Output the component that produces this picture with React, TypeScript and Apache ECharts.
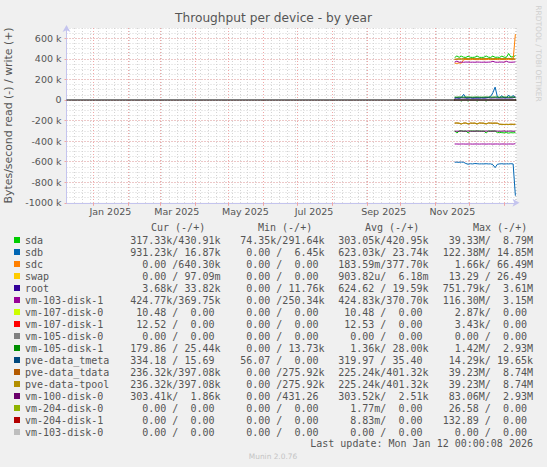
import { useEffect, useRef } from 'react';
import * as echarts from 'echarts';

// axis range and ticks
const axisRange = ['2024-12-08', '2026-01-12'];
const monthStarts = [
  '2025-01-01', '2025-02-01', '2025-03-01', '2025-04-01', '2025-05-01', '2025-06-01', '2025-07-01',
  '2025-08-01', '2025-09-01', '2025-10-01', '2025-11-01', '2025-12-01', '2026-01-01',
];
const labelDates = ['2025-01-16', '2025-03-16', '2025-05-16', '2025-07-16', '2025-09-16', '2025-11-16'];
const xLabels = ['Jan 2025', 'Mar 2025', 'May 2025', 'Jul 2025', 'Sep 2025', 'Nov 2025'];
const yTicksK = [-1000, -800, -600, -400, -200, 0, 200, 400, 600];

// sampled days (every 2 days) where data exists
const days = [
  '2025-11-18', '2025-11-20', '2025-11-22', '2025-11-24', '2025-11-26', '2025-11-28', '2025-11-30',
  '2025-12-02', '2025-12-04', '2025-12-06', '2025-12-08', '2025-12-10', '2025-12-12', '2025-12-14',
  '2025-12-16', '2025-12-18', '2025-12-20', '2025-12-22', '2025-12-24', '2025-12-26', '2025-12-28',
  '2025-12-30', '2026-01-01', '2026-01-03', '2026-01-05', '2026-01-07', '2026-01-09', '2026-01-11',
];
const flatDays = ['2025-11-18', '2026-01-11'];

// values in k (bytes/s), read drawn below zero
const sdaWrite = [412, 428, 415, 426, 416, 414, 425, 415, 414, 416, 427, 415, 414, 415, 428, 416, 414, 426, 415, 416, 414, 427, 416, 415, 452, 418, 420, 431];
const sdaRead = [300, 322, 302, 301, 303, 302, 320, 302, 301, 303, 302, 301, 303, 302, 321, 302, 301, 303, 302, 318, 316, 318, 320, 317, 322, 318, 320, 317];
const sdbWrite = [20, 22, 18, 24, 55, 20, 19, 22, 18, 20, 23, 19, 21, 20, 22, 25, 35, 70, 125, 30, 22, 42, 20, 21, 48, 22, 45, 17];
const sdbRead = [605, 605, 606, 604, 606, 618, 625, 620, 622, 618, 620, 622, 621, 622, 620, 622, 621, 630, 658, 625, 622, 620, 623, 621, 622, 620, 622, 931];
const sdcWrite = [358, 356, 360, 358, 392, 394, 393, 392, 394, 393, 392, 393, 394, 392, 393, 394, 392, 393, 394, 393, 392, 394, 393, 392, 395, 393, 392, 640];
const sdcRead = [0, 0];
const swapWrite = [0, 0];
const swapRead = [0, 0];
const rootWrite = [18, 20, 19, 21, 20, 19, 20, 21, 19, 20, 18, 20, 21, 19, 20, 22, 19, 20, 21, 19, 20, 19, 21, 20, 19, 20, 21, 34];
const rootRead = [0.6, 3.7];
const vm103d1Write = [368, 378, 367, 368, 367, 369, 368, 367, 368, 367, 369, 368, 367, 368, 367, 368, 369, 376, 368, 367, 368, 369, 367, 376, 368, 367, 368, 370];
const vm103d1Read = [428, 428, 429, 428, 428, 429, 428, 428, 429, 428, 428, 429, 428, 428, 429, 428, 428, 429, 428, 428, 429, 428, 428, 429, 428, 428, 429, 425];
const vm107d0Write = [0, 0];
const vm107d0Read = [0, 0];
const vm107d1Write = [0, 0];
const vm107d1Read = [0, 0];
const vm105d0Write = [0, 0];
const vm105d0Read = [0, 0];
const vm105d1Write = [28, 27, 29, 28, 27, 28, 29, 28, 27, 28, 29, 28, 27, 28, 29, 28, 27, 28, 29, 28, 27, 28, 29, 28, 27, 28, 29, 25];
const vm105d1Read = [1, 1, 1, 10, 1, 1, 10, 1, 1, 1, 10, 1, 1, 1, 10, 1, 1, 1, 1, 1, 1, 1, 1, 1, 1, 1, 1, 0.2];
const tmetaWrite = [0, 0];
const tmetaRead = [0.3, 0.3];
const tdataWrite = [395, 397, 399, 398, 401, 402, 400, 401, 403, 400, 401, 402, 400, 401, 402, 403, 401, 400, 402, 401, 403, 400, 401, 402, 404, 401, 399, 397];
const tdataRead = [225, 224, 226, 233, 225, 224, 233, 225, 226, 225, 233, 224, 225, 226, 233, 224, 225, 226, 225, 226, 236, 237, 238, 237, 238, 236, 237, 236];
const tpoolWrite = [395, 397, 399, 398, 401, 402, 400, 401, 403, 400, 401, 402, 400, 401, 402, 403, 401, 400, 402, 401, 403, 400, 401, 402, 404, 401, 399, 397];
const tpoolRead = [225, 224, 226, 233, 225, 224, 233, 225, 226, 225, 233, 224, 225, 226, 233, 224, 225, 226, 225, 226, 236, 237, 238, 237, 238, 236, 237, 236];
const vm100d0Write = [2.5, 1.9];
const vm100d0Read = [303, 304, 303, 302, 304, 303, 302, 303, 304, 303, 302, 304, 303, 304, 302, 303, 304, 303, 302, 303, 304, 303, 302, 304, 303, 302, 304, 303];
const vm204d0Write = [0, 0];
const vm204d0Read = [0, 0];
const vm204d1Write = [0, 0];
const vm204d1Read = [0, 0];
const vm103d0Write = [0, 0];
const vm103d0Read = [0, 0];

// legend table text (as printed by munin)
const curCol = [
  '317.33k/430.91k', '931.23k/ 16.87k', '  0.00 /640.30k', '  0.00 / 97.09m', '  3.68k/ 33.82k',
  '424.77k/369.75k', ' 10.48 /  0.00 ', ' 12.52 /  0.00 ', '  0.00 /  0.00 ', '179.86 / 25.44k',
  '334.18 / 15.69 ', '236.32k/397.08k', '236.32k/397.08k', '303.41k/  1.86k', '  0.00 /  0.00 ',
  '  0.00 /  0.00 ', '  0.00 /  0.00 ',
];
const minCol = [
  ' 74.35k/291.64k', '  0.00 /  6.45k', '  0.00 /  0.00 ', '  0.00 /  0.00 ', '  0.00 / 11.76k',
  '  0.00 /250.34k', '  0.00 /  0.00 ', '  0.00 /  0.00 ', '  0.00 /  0.00 ', '  0.00 / 13.73k',
  ' 56.07 /  0.00 ', '  0.00 /275.92k', '  0.00 /275.92k', '  0.00 /431.26 ', '  0.00 /  0.00 ',
  '  0.00 /  0.00 ', '  0.00 /  0.00 ',
];
const avgCol = [
  '303.05k/420.95k', '623.03k/ 23.74k', '183.59m/377.70k', '903.82u/  6.18m', '624.62 / 19.59k',
  '424.83k/370.70k', ' 10.48 /  0.00 ', ' 12.53 /  0.00 ', '  0.00 /  0.00 ', '  1.36k/ 28.00k',
  '319.97 / 35.40 ', '225.24k/401.32k', '225.24k/401.32k', '303.52k/  2.51k', '  1.77m/  0.00 ',
  '  8.83m/  0.00 ', '  0.00 /  0.00 ',
];
const maxCol = [
  ' 39.33M/  8.79M', '122.38M/ 14.85M', '  1.66k/ 66.49M', ' 13.29 / 26.49 ', '751.79k/  3.61M',
  '116.30M/  3.15M', '  2.87k/  0.00 ', '  3.43k/  0.00 ', '  0.00 /  0.00 ', '  1.42M/  2.93M',
  ' 14.29k/ 19.65k', ' 39.23M/  8.74M', ' 39.23M/  8.74M', ' 83.06M/  2.93M', ' 26.58 /  0.00 ',
  '132.89 /  0.00 ', '  0.00 /  0.00 ',
];
const headers = ['Cur (-/+)', 'Min (-/+)', 'Avg (-/+)', 'Max (-/+)'];
const lastUpdate = 'Last update: Mon Jan 12 00:00:08 2026';

const devices = [
  { name: 'sda', days, write: sdaWrite, read: sdaRead },
  { name: 'sdb', days, write: sdbWrite, read: sdbRead },
  { name: 'sdc', days, write: sdcWrite, read: sdcRead, readDays: flatDays },
  { name: 'swap', days: flatDays, write: swapWrite, read: swapRead },
  { name: 'root', days, write: rootWrite, read: rootRead, readDays: flatDays },
  { name: 'vm-103-disk-1', days, write: vm103d1Write, read: vm103d1Read },
  { name: 'vm-107-disk-0', days: flatDays, write: vm107d0Write, read: vm107d0Read },
  { name: 'vm-107-disk-1', days: flatDays, write: vm107d1Write, read: vm107d1Read },
  { name: 'vm-105-disk-0', days: flatDays, write: vm105d0Write, read: vm105d0Read },
  { name: 'vm-105-disk-1', days, write: vm105d1Write, read: vm105d1Read },
  { name: 'pve-data_tmeta', days: flatDays, write: tmetaWrite, read: tmetaRead },
  { name: 'pve-data_tdata', days, write: tdataWrite, read: tdataRead },
  { name: 'pve-data-tpool', days, write: tpoolWrite, read: tpoolRead },
  { name: 'vm-100-disk-0', days, write: vm100d0Write, read: vm100d0Read, writeDays: flatDays },
  { name: 'vm-204-disk-0', days: flatDays, write: vm204d0Write, read: vm204d0Read },
  { name: 'vm-204-disk-1', days: flatDays, write: vm204d1Write, read: vm204d1Read },
  { name: 'vm-103-disk-0', days: flatDays, write: vm103d0Write, read: vm103d0Read },
];

const palette = [
  '#00cc00', '#0066b3', '#ff8000', '#ffcc00', '#330099', '#990099', '#ccff00', '#ff0000', '#808080',
  '#008f00', '#00487d', '#b35a00', '#b38f00', '#6b006b', '#8fb300', '#b30000', '#bebebe',
];

const utc = (s: string) => {
  const [y, m, d] = s.split('-').map(Number);
  return Date.UTC(y, m - 1, d);
};

const nb = (s: string) => s.replace(/ /g, '\u00a0');

const TEXT = '#555';
const MONO = '"DejaVu Sans Mono", monospace';
const SANS = '"DejaVu Sans", sans-serif';
const MAJOR = '#f0a6a6';
const MINOR = '#d4d4d4';
const AXIS = '#c4c4ee';

const buildOption = (): echarts.EChartsOption => {
  const labelMap = new Map(labelDates.map((d, i) => [utc(d), xLabels[i]]));
  const series: any[] = [];
  const common = {
    type: 'line',
    showSymbol: false,
    symbol: 'none',
    lineStyle: { width: 1 },
    emphasis: { disabled: true },
    xAxisIndex: 0,
    yAxisIndex: 0,
  };
  devices.forEach((dev, i) => {
    const rd = dev.readDays ?? dev.days;
    const wd = dev.writeDays ?? dev.days;
    series.push({
      ...common,
      name: dev.name,
      color: palette[i],
      data: rd.map((d, j) => [utc(d), -dev.read[j] * 1000]),
    });
    series.push({
      ...common,
      name: dev.name,
      color: palette[i],
      data: wd.map((d, j) => [utc(d), dev.write[j] * 1000]),
    });
  });
  series.push({
    ...common,
    name: 'zero',
    color: '#000',
    lineStyle: { width: 1.2 },
    z: 3,
    data: axisRange.map((d) => [utc(d), 0]),
  });

  const rowY = (i: number) => 240 + i * 12;
  const textEl = (x: number, y: number, text: string, extra: any = {}) => ({
    type: 'text',
    x,
    y,
    silent: true,
    style: {
      text: nb(text),
      fill: TEXT,
      fontFamily: MONO,
      fontSize: 10,
      textAlign: 'left',
      textVerticalAlign: 'middle',
      ...extra,
    },
  });

  const colStarts = [130.2, 234.2, 338.2, 442.7];
  const headerX = [151, 258, 365, 473];
  const cols = [curCol, minCol, avgCol, maxCol];
  const graphic: any[] = [];
  headers.forEach((h, c) => graphic.push(textEl(headerX[c], 227.7, h)));
  cols.forEach((col, c) => col.forEach((s, r) => graphic.push(textEl(colStarts[c], rowY(r), s))));
  graphic.push(textEl(533, 443.5, lastUpdate, { textAlign: 'right' }));
  graphic.push(
    textEl(273, 456, 'Munin 2.0.76', {
      textAlign: 'center',
      fontFamily: SANS,
      fontSize: 7.4,
      fill: '#c4c4c4',
    })
  );
  graphic.push({
    type: 'text',
    x: 538,
    y: 53.5,
    rotation: -Math.PI / 2,
    silent: true,
    style: {
      text: 'RRDTOOL / TOBI OETIKER',
      fill: '#cfcfcf',
      fontFamily: SANS,
      fontSize: 7.5,
      textAlign: 'center',
      textVerticalAlign: 'middle',
    },
  });

  return {
    animation: false,
    backgroundColor: '#f0f0f0',
    title: {
      text: 'Throughput per device - by year',
      left: 'center',
      top: 12,
      padding: 0,
      textStyle: { color: TEXT, fontSize: 12.2, fontWeight: 'normal', fontFamily: SANS },
    },
    legend: {
      orient: 'vertical',
      left: 14,
      top: 234,
      padding: 0,
      itemWidth: 6,
      itemHeight: 6,
      itemGap: 0,
      icon: 'rect',
      data: devices.map((d) => d.name),
      textStyle: { color: TEXT, fontFamily: MONO, fontSize: 10, lineHeight: 12 },
    },
    grid: {
      left: 66.5,
      right: 30.5,
      top: 28,
      bottom: 264.2,
      show: true,
      backgroundColor: '#ffffff',
      borderWidth: 0,
      outerBoundsMode: 'none',
    } as any,
    xAxis: [
      {
        type: 'value',
        min: utc(axisRange[0]),
        max: utc(axisRange[1]),
        position: 'bottom',
        z: 2,
        axisLine: {
          show: true,
          onZero: false,
          lineStyle: { color: AXIS, width: 1 },
          symbol: ['none', 'arrow'],
          symbolSize: [6, 7],
          symbolOffset: [0, 3],
        },
        axisTick: {
          show: true,
          customValues: monthStarts.map(utc),
          length: 3,
          lineStyle: { color: MAJOR },
        },
        axisLabel: {
          customValues: labelDates.map(utc),
          formatter: (v: number) => labelMap.get(v) ?? '',
          color: TEXT,
          fontSize: 9.5,
          fontFamily: SANS,
          margin: 4,
          showMinLabel: true,
          showMaxLabel: true,
        },
        splitLine: { show: true, lineStyle: { color: MAJOR, type: [1, 2], width: 1 } },
      } as any,
      {
        type: 'value',
        min: 0,
        max: 400,
        interval: 7,
        position: 'bottom',
        z: 0,
        axisLine: { show: false },
        axisTick: { show: false },
        axisLabel: { show: false },
        splitLine: { show: true, lineStyle: { color: MINOR, type: [1, 2], width: 1 } },
      },
    ],
    yAxis: [
      {
        type: 'value',
        min: -1000000,
        max: 700000,
        interval: 200000,
        position: 'left',
        z: 2,
        name: 'Bytes/second read (-) / write (+)',
        nameLocation: 'middle',
        nameGap: 51,
        nameRotate: 90,
        nameTextStyle: { color: TEXT, fontSize: 10.9, fontFamily: SANS },
        axisLine: {
          show: true,
          onZero: false,
          lineStyle: { color: AXIS, width: 1 },
          symbol: ['none', 'arrow'],
          symbolSize: [6, 7],
          symbolOffset: [0, 3],
        },
        axisTick: {
          show: true,
          customValues: yTicksK.map((k) => k * 1000),
          length: 2,
          lineStyle: { color: MAJOR },
        },
        axisLabel: {
          customValues: yTicksK.map((k) => k * 1000),
          formatter: (v: number) => (v === 0 ? '0' : `${v / 1000} k`),
          color: TEXT,
          fontSize: 9.5,
          fontFamily: SANS,
          margin: 5,
        },
        splitLine: { show: true, lineStyle: { color: MAJOR, type: [1, 2], width: 1 } },
      } as any,
      {
        type: 'value',
        min: -1000000,
        max: 700000,
        interval: 50000,
        position: 'left',
        z: 0,
        axisLine: { show: false },
        axisTick: { show: false },
        axisLabel: { show: false },
        splitLine: { show: true, lineStyle: { color: MINOR, type: [1, 2], width: 1 } },
      },
    ],
    graphic,
    series,
  };
};

export default function App() {
  const el = useRef<HTMLDivElement>(null);

  useEffect(() => {
    if (!el.current) return;
    const chart = echarts.init(el.current, undefined, { renderer: 'svg' });
    chart.setOption(buildOption());
    return () => {
      chart.dispose();
    };
  }, []);

  return (
    <div
      ref={el}
      style={{ position: 'absolute', left: 0, top: 0, width: 547, height: 467 }}
    />
  );
}
